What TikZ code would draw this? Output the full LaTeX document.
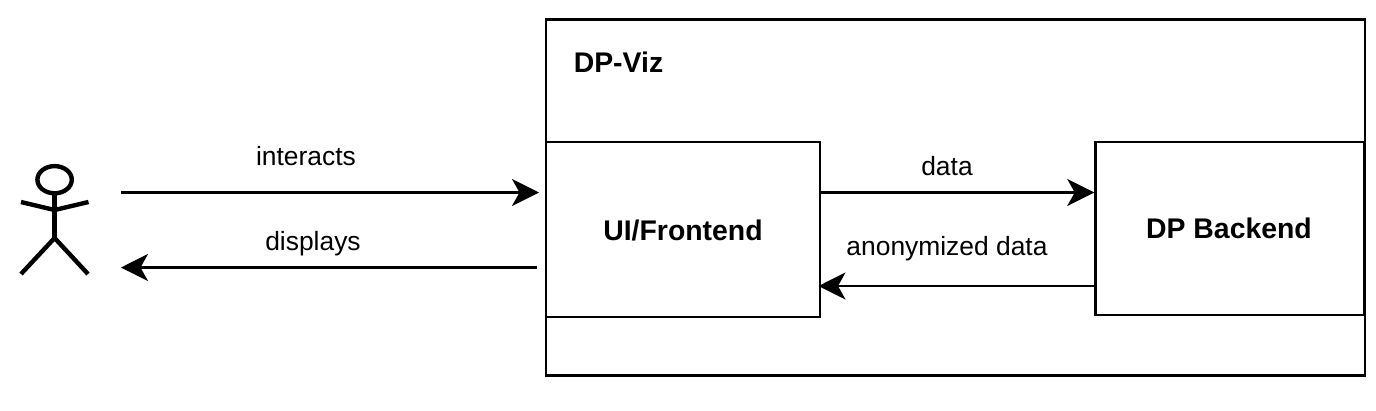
\documentclass[tikz,border=0pt]{standalone}
\usepackage{fontspec}
\setmainfont{Liberation Sans}
\usetikzlibrary{arrows.meta}
\tikzset{
  boxst/.style={draw=black,line width=2.5pt,fill=white,inner sep=0pt},
  lbl/.style={inner sep=0pt,font=\fontsize{26.4pt}{30pt}\selectfont,text=black},
  blbl/.style={inner sep=0pt,font=\fontsize{28.4pt}{32pt}\selectfont\bfseries,text=black},
  conn/.style={line width=2.5pt,-{Stealth[length=27pt,width=27pt,inset=7.5pt]}},
  stick/.style={line width=4.4pt}
}
\begin{document}
\begin{tikzpicture}[x=1pt,y=-1pt]
\useasboundingbox (0,0) rectangle (1376,410);
\node[boxst,minimum width=819pt,minimum height=356pt] (viz) at (955.5,197.5) {};
\node[boxst,minimum width=274pt,minimum height=175pt] (ui) at (683,229.5) {};
\node[boxst,minimum width=269pt,minimum height=173pt] (dp) at (1230,228.5) {};
\node[blbl] (t) at (618.5,62) {DP-Viz};
\node[blbl] (tu) at (683,230) {UI/Frontend};
\node[blbl] (td) at (1229,228) {DP Backend};
\coordinate (a1) at (121,192.5);
\coordinate (a2) at (539,192.5);
\coordinate (b1) at (537,267.5);
\coordinate (b2) at (121,267.5);
\coordinate (c2) at (818.5,286);
\draw[conn] (a1) -- (a2);
\draw[conn] (b1) -- (b2);
\draw[conn] (ui.east |- a1) -- (dp.west |- a1);
\draw[conn] (dp.west |- c2) -- (c2);
\node[lbl] (l1) at (306,156) {interacts};
\node[lbl] (l2) at (313,243.5) {displays};
\node[lbl] (l3) at (947,166) {data};
\node[lbl] (l4) at (947,248.5) {anonymized data};
\coordinate (hd) at (54.6,179.7);
\draw[stick] (hd) circle [x radius=17.2,y radius=13.6];
\coordinate (neck) at (54.6,194);
\coordinate (hip) at (54.6,238);
\draw[stick] (neck) -- (hip);
\coordinate (la) at (21,202);
\coordinate (arm) at (54.6,210);
\coordinate (ra) at (88.5,202);
\draw[stick] (la) -- (arm) -- (ra);
\coordinate (ll) at (21,274);
\coordinate (rl) at (88,274);
\draw[stick] (ll) -- (hip) -- (rl);
\end{tikzpicture}
\end{document}
